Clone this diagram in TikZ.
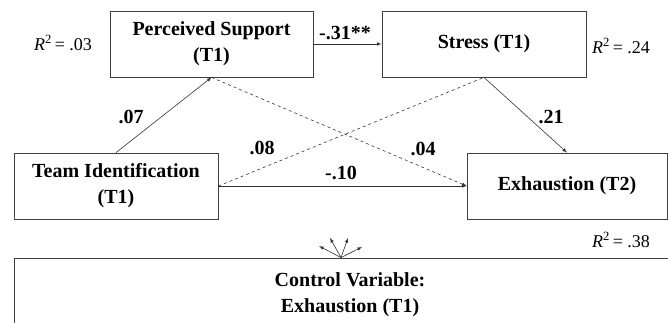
\documentclass[tikz,border=0pt]{standalone}
\usepackage{fontspec}
\setmainfont{Liberation Serif}
\usetikzlibrary{arrows,calc}
\tikzstyle{var} = [rectangle,draw=black!75,line width=0.8pt,minimum height=66pt,align=center,font=\fontsize{20}{26}\selectfont\bfseries]
\tikzstyle{coef} = [font=\fontsize{20}{22}\selectfont\bfseries]
\tikzstyle{rsq} = [font=\fontsize{18}{20}\selectfont]
\tikzstyle{path} = [draw=black!80,line width=0.6pt,-latex]
\newcommand{\rsquare}[1]{\textit{R}\textsuperscript{2}\,= #1}

\begin{document}
\begin{tikzpicture}[x=1pt,y=-1pt]
  \useasboundingbox (0,0) rectangle (668,323);
  \clip (0,0) rectangle (668,323);
  % variables
  \node[var,minimum width=203pt](ps) at (211.5,44) {Perceived Support\\(T1)};
  \node[var,minimum width=204pt](st) at (484,44) {Stress (T1)};
  \node[var,minimum width=204pt](ti) at (116,186) {Team Identification\\(T1)};
  \node[var,minimum width=200pt](ex) at (567,186) {Exhaustion (T2)};
  \node[var,minimum width=672pt,minimum height=74pt](cv) at (350,295) {Control Variable:\\Exhaustion (T1)};
  % explained variance
  \node[rsq](r1) at (63,43) {\rsquare{.03}};
  \node[rsq](r2) at (621,46) {\rsquare{.24}};
  \node[rsq](r3) at (621,240) {\rsquare{.38}};
  % paths
  \draw[path] (ps.east) -- (st.west);
  \draw[path] (ti.north) -- (ps.south);
  \draw[path] (st.south) -- (ex.north);
  \draw[path] (ti.east) -- (ex.west);
  \draw[path,dashed,-] (ti.east) -- (st.south);
  \draw[path,dashed] (ps.south) -- (ex.west);
  \node[coef](b1) at (345,33) {-.31**};
  \node[coef](b2) at (131,117) {.07};
  \node[coef](b3) at (551,117) {.21};
  \node[coef](b4) at (262,148) {.08};
  \node[coef](b5) at (423,149) {.04};
  \node[coef](b6) at (341,173) {-.10};
  % control paths
  \coordinate (f) at (cv.north -| 341,0);
  \coordinate (f1) at (319,246);
  \coordinate (f2) at (330,238);
  \coordinate (f3) at (348,238);
  \coordinate (f4) at (362,247);
  \foreach \t in {f1,f2,f3,f4}
    \draw[path] (f) -- (\t);
\end{tikzpicture}
\end{document}
